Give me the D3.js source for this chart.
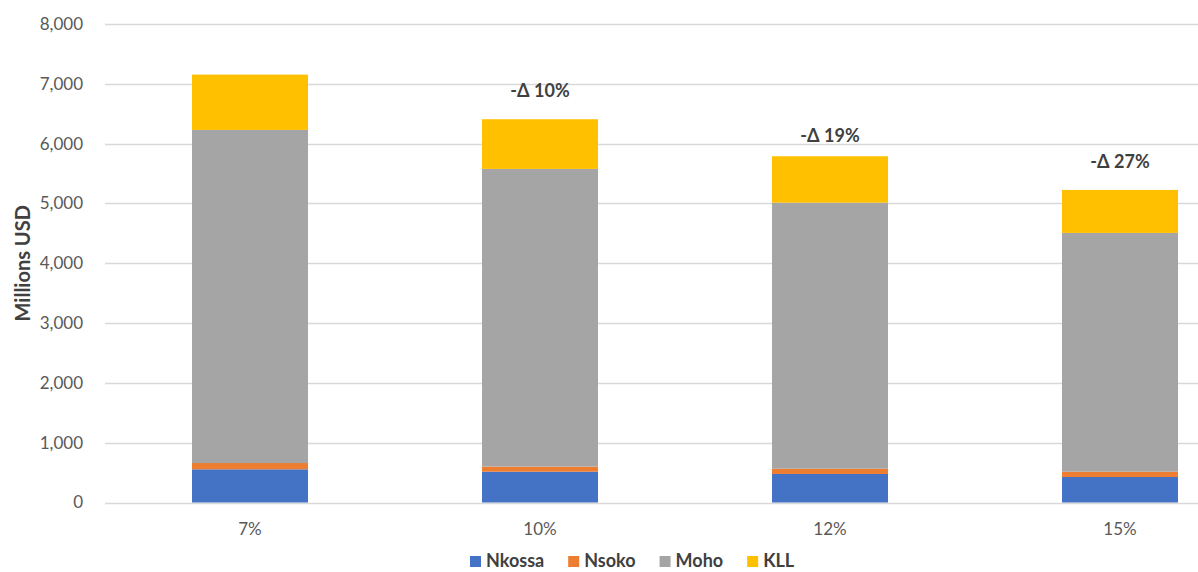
<!DOCTYPE html>
<html>
<head>
<meta charset="utf-8">
<script src="https://cdn.jsdelivr.net/npm/d3@7"></script>
<style>
  html, body { margin: 0; padding: 0; background: #fff; }
  svg { display: block; }
  text { font-family: Lato, "Open Sans", sans-serif; }
</style>
</head>
<body>
<svg id="chart" width="1198" height="572"></svg>
<script>
const categories = ["7%", "10%", "12%", "15%"];
const seriesNames = ["Nkossa", "Nsoko", "Moho", "KLL"];
const nkossa = [555, 515, 477, 426];
const nsoko  = [105, 86, 88, 89];
const moho   = [5569, 4976, 4448, 3992];
const kll    = [925, 831, 776, 719];
const yTicks = [0, 1000, 2000, 3000, 4000, 5000, 6000, 7000, 8000];
const deltaLabels = [null, "-Δ 10%", "-Δ 19%", "-Δ 27%"];
const deltaLabelY = [null, 6880, 6130, 5695];
const colors = ["#4472C4", "#ED7D31", "#A5A5A5", "#FFC000"];

const svg = d3.select("#chart");
const W = 1198, H = 572;
const plotLeft = 105, plotTop = 24, plotBottom = 502.5;

const x = d3.scaleBand().domain(categories).range([plotLeft, plotLeft + 1160]).paddingInner(0.6).paddingOuter(0.3);
const y = d3.scaleLinear().domain([0, 8000]).range([plotBottom, plotTop]);

// gridlines
svg.append("g").selectAll("line").data(yTicks).join("line")
  .attr("x1", plotLeft).attr("x2", W)
  .attr("y1", d => Math.round(y(d)) + 0.5).attr("y2", d => Math.round(y(d)) + 0.5)
  .attr("stroke", "#d9d9d9").attr("stroke-width", 1.3);

// y axis labels
const yAxis = d3.axisLeft(y).tickValues(yTicks).tickFormat(d3.format(",")).tickSize(0).tickPadding(22);
const yg = svg.append("g").attr("transform", `translate(${plotLeft},0)`).call(yAxis);
yg.select(".domain").remove();
yg.selectAll("text").attr("fill", "#595959").style("font-size", "17px").style("font-family", "Lato, sans-serif");

// x axis labels
const xAxis = d3.axisBottom(x).tickSize(0).tickPadding(20);
const xg = svg.append("g").attr("transform", `translate(0,${y(0)})`).call(xAxis);
xg.select(".domain").remove();
xg.selectAll("text").attr("fill", "#595959").style("font-size", "17px").style("font-family", "Lato, sans-serif");

// stacked data
const table = categories.map((c, i) => ({ cat: c, Nkossa: nkossa[i], Nsoko: nsoko[i], Moho: moho[i], KLL: kll[i] }));
const stack = d3.stack().keys(seriesNames)(table);

svg.append("g").selectAll("g").data(stack).join("g")
  .attr("fill", (d, i) => colors[i])
  .selectAll("rect").data(d => d).join("rect")
  .attr("x", d => x(d.data.cat))
  .attr("width", x.bandwidth())
  .attr("y", d => y(d[1]))
  .attr("height", d => y(d[0]) - y(d[1]));

// delta labels
svg.append("g").selectAll("text").data(categories.map((c, i) => ({ c, t: deltaLabels[i], v: deltaLabelY[i] })).filter(d => d.t))
  .join("text")
  .attr("x", d => x(d.c) + x.bandwidth() / 2)
  .attr("y", d => y(d.v))
  .attr("dy", "0.35em")
  .attr("text-anchor", "middle")
  .attr("fill", "#404040")
  .style("font-size", "18px").style("font-weight", "bold")
  .text(d => d.t);

// y axis title
svg.append("text")
  .attr("transform", `translate(23,${(y(0) + y(8000)) / 2}) rotate(-90)`)
  .attr("text-anchor", "middle").attr("dy", "0.35em")
  .attr("fill", "#404040")
  .style("font-size", "20px").style("font-weight", "bold")
  .text("Millions USD");

// legend
const legendItems = seriesNames.map((n, i) => ({ n, c: colors[i] }));
const lg = svg.append("g").attr("transform", "translate(0,561)");
let lx = 470;
legendItems.forEach((d, i) => {
  const g = lg.append("g").attr("transform", `translate(${lx},0)`);
  g.append("rect").attr("x", 0).attr("y", -5).attr("width", 11).attr("height", 11).attr("fill", d.c);
  const t = g.append("text").attr("x", 16).attr("y", 0).attr("dy", "0.35em")
    .attr("fill", "#404040").style("font-size", "18px").style("font-weight", "bold").text(d.n);
  const w = t.node().getComputedTextLength();
  lx += 16 + w + 24;
});
</script>
</body>
</html>
